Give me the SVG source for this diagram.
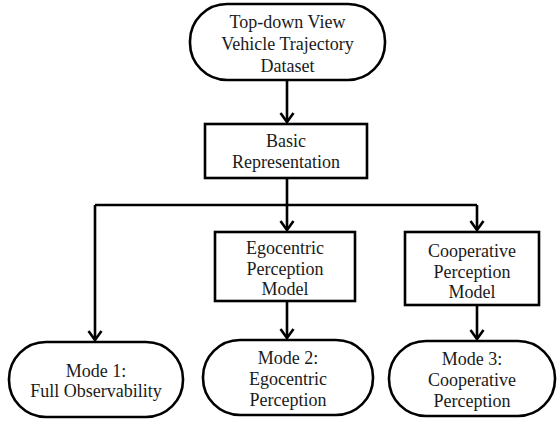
<svg xmlns="http://www.w3.org/2000/svg" width="558" height="421" viewBox="0 0 558 421">
<style>
.n{fill:#fff;stroke:#000;stroke-width:2.6}
.t{font-family:"Liberation Serif","Times New Roman",serif;font-size:18px;fill:#1a1a1a;text-anchor:middle}
.c{fill:none;stroke:#000;stroke-width:2.6}
</style>
<defs>
<marker id="ah" markerUnits="userSpaceOnUse" markerWidth="20" markerHeight="20" refX="0" refY="0" orient="auto" overflow="visible">
<path d="M-9,-6.5 L0,0 L-9,6.5" fill="none" stroke="#000" stroke-width="2.6"/>
</marker>
</defs>
<rect width="558" height="421" fill="#fff"/>
<g id="connectors">
<path class="c" d="M287,80 V122" marker-end="url(#ah)"/>
<path class="c" d="M287,178 V205"/>
<path class="c" d="M95,205 H477"/>
<path class="c" d="M287,205 V230" marker-end="url(#ah)"/>
<path class="c" d="M477,205 V230" marker-end="url(#ah)"/>
<path class="c" d="M95,205 V340" marker-end="url(#ah)"/>
<path class="c" d="M287,301 V338" marker-end="url(#ah)"/>
<path class="c" d="M477,305 V339" marker-end="url(#ah)"/>
</g>
<g id="dataset">
<rect class="n" x="190" y="4" width="195" height="76" rx="37" ry="37"/>
<text class="t" x="287.5" y="28">Top-down View</text>
<text class="t" x="287.5" y="50">Vehicle Trajectory</text>
<text class="t" x="287.5" y="72">Dataset</text>
</g>
<g id="basic">
<rect class="n" x="205" y="124" width="162" height="54"/>
<text class="t" x="286" y="147">Basic</text>
<text class="t" x="286" y="168">Representation</text>
</g>
<g id="egocentric">
<rect class="n" x="215" y="232" width="140" height="69"/>
<text class="t" x="285" y="254">Egocentric</text>
<text class="t" x="285" y="275">Perception</text>
<text class="t" x="285" y="295">Model</text>
</g>
<g id="cooperative">
<rect class="n" x="405" y="232" width="134" height="73"/>
<text class="t" x="472" y="257">Cooperative</text>
<text class="t" x="472" y="278">Perception</text>
<text class="t" x="472" y="298">Model</text>
</g>
<g id="mode1">
<rect class="n" x="9" y="342" width="174" height="75" rx="37" ry="37"/>
<text class="t" x="96" y="377">Mode 1:</text>
<text class="t" x="96" y="397">Full Observability</text>
</g>
<g id="mode2">
<rect class="n" x="203" y="340" width="170" height="75" rx="37" ry="37"/>
<text class="t" x="288" y="364">Mode 2:</text>
<text class="t" x="288" y="385">Egocentric</text>
<text class="t" x="288" y="406">Perception</text>
</g>
<g id="mode3">
<rect class="n" x="389" y="341" width="166" height="75" rx="37" ry="37"/>
<text class="t" x="472" y="365">Mode 3:</text>
<text class="t" x="472" y="386">Cooperative</text>
<text class="t" x="472" y="407">Perception</text>
</g>
</svg>
